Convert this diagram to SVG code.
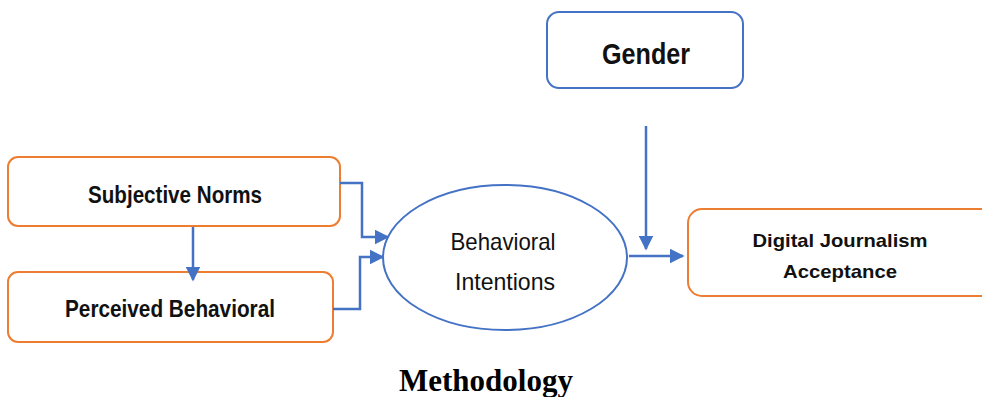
<svg xmlns="http://www.w3.org/2000/svg" width="982" height="397" viewBox="0 0 982 397">
<defs>
<style>
.ob{fill:#fff;stroke:#ED7D31;stroke-width:2}
.bb{fill:#fff;stroke:#4472C4;stroke-width:2}
.lbl{font-family:"Liberation Sans",Arial,sans-serif;font-weight:bold;fill:#111;text-anchor:middle}
.conn{fill:none;stroke:#4472C4;stroke-width:2.5}
</style>
<marker id="ah" viewBox="0 0 10 10" refX="9" refY="5" markerWidth="6" markerHeight="6" orient="auto" markerUnits="strokeWidth">
<path d="M0,0 L10,5 L0,10 z" fill="#4472C4"/>
</marker>
</defs>
<rect width="982" height="397" fill="#fff"/>
<g id="subjective-norms">
<rect class="ob" x="8" y="157" width="332" height="69" rx="10"/>
<text class="lbl" x="175" y="203" font-size="24" textLength="174" lengthAdjust="spacingAndGlyphs">Subjective Norms</text>
</g>
<g id="perceived-behavioral">
<rect class="ob" x="8" y="272" width="325" height="70" rx="10"/>
<text class="lbl" x="170" y="317" font-size="24" textLength="210" lengthAdjust="spacingAndGlyphs">Perceived Behavioral</text>
</g>
<g id="behavioral-intentions">
<ellipse class="bb" cx="505" cy="257.5" rx="122" ry="72.5" stroke-width="1.5"/>
<text class="lbl" x="503" y="250" font-size="24" textLength="105" lengthAdjust="spacingAndGlyphs" style="font-weight:normal">Behavioral</text>
<text class="lbl" x="505" y="290" font-size="24" textLength="100" lengthAdjust="spacingAndGlyphs" style="font-weight:normal">Intentions</text>
</g>
<g id="gender">
<rect class="bb" x="547" y="12" width="196" height="76" rx="12"/>
<text class="lbl" x="646" y="64" font-size="30" textLength="88" lengthAdjust="spacingAndGlyphs">Gender</text>
</g>
<g id="digital-journalism-acceptance">
<rect class="ob" x="688" y="209" width="310" height="87" rx="14"/>
<text class="lbl" x="840" y="247" font-size="19" textLength="175" lengthAdjust="spacingAndGlyphs">Digital Journalism</text>
<text class="lbl" x="840" y="278" font-size="19" textLength="114" lengthAdjust="spacingAndGlyphs">Acceptance</text>
</g>
<g id="connectors">
<path class="conn" d="M193,227 L193,280" marker-end="url(#ah)"/>
<path class="conn" d="M340,183 L362,183 L362,237 L388,237" marker-end="url(#ah)"/>
<path class="conn" d="M333,309 L360,309 L360,257 L383,257" marker-end="url(#ah)"/>
<path class="conn" d="M646,126 L646,249" stroke-width="2" marker-end="url(#ah)"/>
<path class="conn" d="M629,256 L683,256" marker-end="url(#ah)"/>
</g>
<text x="486" y="391" font-family="'Liberation Serif','Times New Roman',serif" font-weight="bold" font-size="31" text-anchor="middle" fill="#000">Methodology</text>
</svg>
